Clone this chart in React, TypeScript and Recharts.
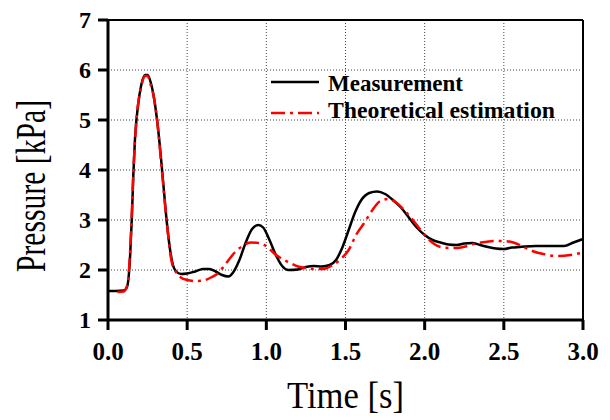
import { LineChart, Line, XAxis, YAxis, CartesianGrid, ReferenceLine, Label } from "recharts";

const FONT = '"Liberation Serif", "Times New Roman", serif';

// measured pressure trace
const measTime = [
  0, 0.05, 0.1, 0.12, 0.13, 0.14, 0.15, 0.16, 0.17, 0.19, 0.21, 0.235, 0.25, 0.27, 0.29, 0.31, 0.33, 0.35,
  0.37, 0.39, 0.41, 0.43, 0.46, 0.5, 0.55, 0.6, 0.64, 0.68, 0.72, 0.76, 0.79, 0.83, 0.87, 0.91, 0.95, 0.98,
  1.02, 1.06, 1.1, 1.14, 1.2, 1.25, 1.3, 1.35, 1.4, 1.44, 1.48, 1.52, 1.56, 1.6, 1.65, 1.7, 1.75, 1.8, 1.85,
  1.9, 1.95, 2.0, 2.05, 2.1, 2.15, 2.2, 2.25, 2.3, 2.35, 2.4, 2.45, 2.5, 2.55, 2.6, 2.7, 2.8, 2.88, 2.94, 3.0,
];
const measPressure = [
  1.58, 1.58, 1.59, 1.66, 1.85, 2.3, 3.0, 3.9, 4.6, 5.3, 5.7, 5.9, 5.9, 5.75, 5.45, 5.0, 4.4, 3.7,
  3.0, 2.45, 2.1, 1.97, 1.92, 1.93, 1.97, 2.02, 2.02, 1.97, 1.9, 1.87, 1.95, 2.2, 2.55, 2.82, 2.9, 2.85,
  2.6, 2.3, 2.08, 2.0, 2.01, 2.06, 2.08, 2.07, 2.1, 2.2, 2.45, 2.8, 3.15, 3.4, 3.54, 3.57, 3.52, 3.4, 3.25,
  3.05, 2.85, 2.7, 2.6, 2.55, 2.51, 2.5, 2.53, 2.54, 2.5, 2.46, 2.43, 2.42, 2.45, 2.46, 2.48, 2.48, 2.48, 2.55, 2.62,
];

// theoretical estimate
const estTime = [
  0.06, 0.1, 0.12, 0.13, 0.14, 0.15, 0.16, 0.18, 0.21, 0.235, 0.25, 0.27, 0.29, 0.31, 0.34, 0.37, 0.4, 0.43,
  0.46, 0.5, 0.55, 0.6, 0.65, 0.7, 0.75, 0.8, 0.85, 0.9, 0.95, 1.0, 1.05, 1.1, 1.15, 1.2, 1.25, 1.3, 1.36,
  1.42, 1.47, 1.52, 1.57, 1.62, 1.67, 1.72, 1.77, 1.82, 1.87, 1.92, 1.97, 2.02, 2.06, 2.1, 2.15, 2.21, 2.27,
  2.32, 2.38, 2.44, 2.5, 2.56, 2.62, 2.68, 2.75, 2.83, 2.92, 3.0,
];
const estPressure = [
  1.56, 1.57, 1.68, 1.9, 2.4, 3.1, 3.95, 5.0, 5.67, 5.88, 5.88, 5.7, 5.45, 5.0, 4.0, 3.0, 2.2, 1.95,
  1.85, 1.8, 1.78, 1.79, 1.85, 1.95, 2.15, 2.35, 2.48, 2.55, 2.54, 2.48, 2.33, 2.22, 2.14, 2.07, 2.04, 2.02, 2.02,
  2.1, 2.22, 2.4, 2.72, 2.95, 3.2, 3.38, 3.42, 3.35, 3.2, 3.02, 2.82, 2.63, 2.52, 2.46, 2.44, 2.44, 2.48,
  2.53, 2.56, 2.58, 2.58, 2.55, 2.47, 2.38, 2.32, 2.28, 2.3, 2.35,
];

const xTicks = [0, 0.5, 1, 1.5, 2, 2.5, 3];
const yTicks = [1, 2, 3, 4, 5, 6, 7];

const measData = measTime.map((t, i) => ({ t, p: measPressure[i] }));
const estData = estTime.map((t, i) => ({ t, p: estPressure[i] }));

const DASH_DOT = "14 5 3 5";
const tickStyle = { fontFamily: FONT, fontWeight: "bold" as const, fontSize: 25, fill: "#000" };
const titleStyle = { fontFamily: FONT, fontSize: 38, fill: "#000" };
const legendStyle = { fontFamily: FONT, fontWeight: "bold" as const, fontSize: 24, fill: "#000" };

function XTick({ x, y, payload }: any) {
  return (
    <text x={x} y={y} dy={22} textAnchor="middle" style={tickStyle}>
      {Number(payload.value).toFixed(1)}
    </text>
  );
}

function YTick({ x, y, payload }: any) {
  return (
    <text x={x} y={y} dy={8} textAnchor="end" style={{ ...tickStyle, fontSize: 24 }}>
      {payload.value}
    </text>
  );
}

// the source figure has tall, narrow titles: large font squeezed to the measured length
function XTitle({ viewBox }: any) {
  const cx = viewBox.x + viewBox.width / 2;
  return (
    <text x={cx} y={viewBox.y + 88} textAnchor="middle" style={titleStyle} textLength={117} lengthAdjust="spacingAndGlyphs">
      Time [s]
    </text>
  );
}

function YTitle({ viewBox }: any) {
  const cx = 45;
  const cy = viewBox.y + viewBox.height / 2 + 16;
  return (
    <text
      x={cx}
      y={cy}
      transform={`rotate(-90 ${cx} ${cy})`}
      textAnchor="middle"
      style={{ ...titleStyle, fontSize: 42 }}
      textLength={172}
      lengthAdjust="spacingAndGlyphs"
    >
      Pressure [kPa]
    </text>
  );
}

function LegendBox() {
  return (
    <svg width={345} height={66} style={{ position: "absolute", left: 260, top: 65 }}>
      <line x1={11} y1={17} x2={59} y2={17} stroke="#000" strokeWidth={2.5} />
      <text x={68} y={26} style={legendStyle} textLength={135} lengthAdjust="spacingAndGlyphs">
        Measurement
      </text>
      <line x1={11} y1={48} x2={59} y2={48} stroke="#f00" strokeWidth={2.5} strokeDasharray={DASH_DOT} />
      <text x={68} y={53} style={legendStyle} textLength={227} lengthAdjust="spacingAndGlyphs">
        Theoretical estimation
      </text>
    </svg>
  );
}

export default function App() {
  return (
    <div style={{ position: "absolute", left: 0, top: 0, width: 610, height: 420, background: "#fff" }}>
      <LineChart width={610} height={420} margin={{ top: 20, right: 27, bottom: 0, left: 0 }}>
        <CartesianGrid stroke="#444" strokeDasharray="1 2" strokeWidth={1} />
        <XAxis
          dataKey="t"
          type="number"
          domain={[0, 3]}
          ticks={xTicks}
          allowDuplicatedCategory={false}
          tick={<XTick />}
          tickSize={10}
          tickMargin={8}
          height={100}
          axisLine={{ stroke: "#000", strokeWidth: 3 }}
          tickLine={{ stroke: "#000", strokeWidth: 3 }}
        >
          <Label content={<XTitle />} />
        </XAxis>
        <YAxis
          type="number"
          domain={[1, 7]}
          ticks={yTicks}
          tick={<YTick />}
          tickSize={10}
          tickMargin={7}
          width={108}
          axisLine={{ stroke: "#000", strokeWidth: 3 }}
          tickLine={{ stroke: "#000", strokeWidth: 3 }}
        >
          <Label content={<YTitle />} />
        </YAxis>
        <ReferenceLine y={7} stroke="#000" strokeWidth={2} />
        <ReferenceLine x={3} stroke="#000" strokeWidth={2} />
        <Line
          data={measData}
          dataKey="p"
          name="Measurement"
          type="monotone"
          stroke="#000"
          strokeWidth={2.5}
          dot={false}
          isAnimationActive={false}
        />
        <Line
          data={estData}
          dataKey="p"
          name="Theoretical estimation"
          type="monotone"
          stroke="#f00"
          strokeWidth={2.5}
          strokeDasharray={DASH_DOT}
          dot={false}
          isAnimationActive={false}
        />
      </LineChart>
      <LegendBox />
    </div>
  );
}
